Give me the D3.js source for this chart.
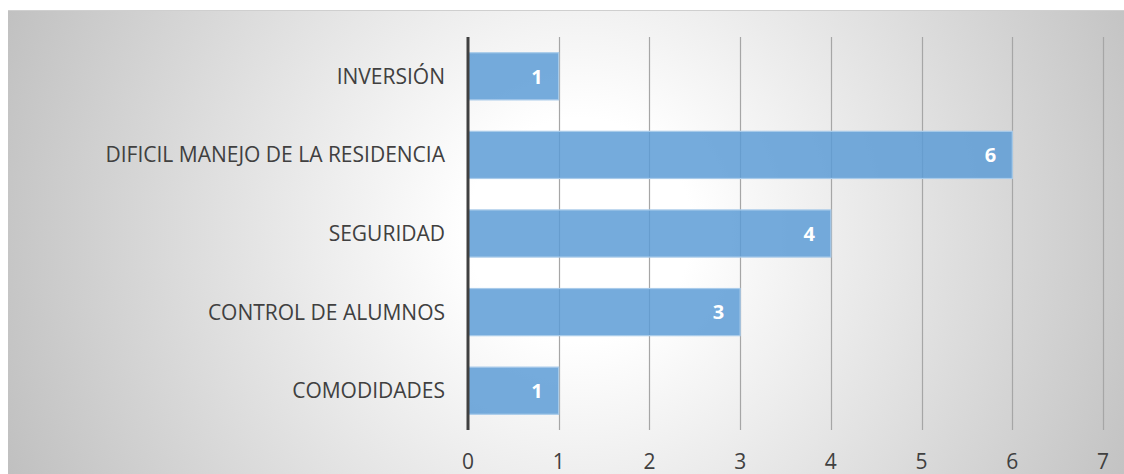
<!DOCTYPE html>
<html>
<head>
<meta charset="utf-8">
<script src="https://cdn.jsdelivr.net/npm/d3@7"></script>
<style>
  body { margin: 0; background: #fff; }
  svg { display: block; }
</style>
</head>
<body>
<div id="chart"></div>
<script>
var categories = ["INVERSIÓN", "DIFICIL MANEJO DE LA RESIDENCIA", "SEGURIDAD", "CONTROL DE ALUMNOS", "COMODIDADES"];
var values = [1, 6, 4, 3, 1];
var ticks = [0, 1, 2, 3, 4, 5, 6, 7];

var W = 1124, H = 474;
var margin = { top: 37, right: 21, bottom: 44, left: 468 };
var width = W - margin.left - margin.right,
    height = H - margin.top - margin.bottom;

var svg = d3.select("#chart").append("svg")
    .attr("width", W)
    .attr("height", H);

var defs = svg.append("defs");
var grad = defs.append("radialGradient")
    .attr("id", "bg")
    .attr("gradientUnits", "userSpaceOnUse")
    .attr("cx", 580).attr("cy", 230).attr("r", 620);
grad.append("stop").attr("offset", "0%").attr("stop-color", "#ffffff");
grad.append("stop").attr("offset", "18%").attr("stop-color", "#ffffff");
grad.append("stop").attr("offset", "100%").attr("stop-color", "#c0c0c0");

// chart area background
svg.append("rect")
    .attr("x", 8).attr("y", 10)
    .attr("width", W - 8).attr("height", H - 10)
    .attr("fill", "url(#bg)");
svg.append("line")
    .attr("x1", 8).attr("x2", W)
    .attr("y1", 10.5).attr("y2", 10.5)
    .attr("stroke", "#cfcfcf").attr("stroke-width", 1);

var x = d3.scaleLinear().domain([0, 7]).range([0, 635]);
var y = d3.scaleBand().domain(categories).range([0, height]).paddingInner(0.4).paddingOuter(0.2);

var g = svg.append("g")
    .attr("transform", "translate(" + margin.left + "," + margin.top + ")");

// gridlines
g.selectAll(".grid")
    .data(ticks.slice(1))
    .enter().append("line")
    .attr("class", "grid")
    .attr("x1", function (d) { return Math.round(x(d)) + 0.5; })
    .attr("x2", function (d) { return Math.round(x(d)) + 0.5; })
    .attr("y1", 0)
    .attr("y2", height)
    .attr("stroke", "#a6a6a6")
    .attr("stroke-width", 1.2);

// bars
g.selectAll(".bar")
    .data(values)
    .enter().append("rect")
    .attr("class", "bar")
    .attr("x", 0)
    .attr("y", function (d, i) { return y(categories[i]); })
    .attr("width", function (d) { return x(d); })
    .attr("height", y.bandwidth())
    .attr("fill", "#5b9bd5")
    .attr("fill-opacity", 0.84)
    .attr("stroke", "#a9cbea")
    .attr("stroke-width", 1.2);

// data labels
g.selectAll(".lbl")
    .data(values)
    .enter().append("text")
    .attr("class", "lbl")
    .attr("x", function (d) { return x(d) - 16; })
    .attr("y", function (d, i) { return y(categories[i]) + y.bandwidth() / 2; })
    .attr("dy", "0.36em")
    .attr("text-anchor", "end")
    .attr("fill", "#ffffff")
    .attr("font-family", "'Open Sans', sans-serif")
    .attr("font-weight", "bold")
    .attr("font-size", 20)
    .text(function (d) { return d; });

// y axis line
g.append("line")
    .attr("x1", 0).attr("x2", 0)
    .attr("y1", 0).attr("y2", height)
    .attr("stroke", "#404040")
    .attr("stroke-width", 3);

// category labels
g.selectAll(".cat")
    .data(categories)
    .enter().append("text")
    .attr("class", "cat")
    .attr("x", -23)
    .attr("y", function (d) { return y(d) + y.bandwidth() / 2; })
    .attr("dy", "0.36em")
    .attr("text-anchor", "end")
    .attr("fill", "#404040")
    .attr("font-family", "'Open Sans', sans-serif")
    .attr("font-size", 21)
    .text(function (d) { return d; });

// x tick labels
g.selectAll(".tick-lbl")
    .data(ticks)
    .enter().append("text")
    .attr("class", "tick-lbl")
    .attr("x", function (d) { return x(d); })
    .attr("y", height + 39)
    .attr("text-anchor", "middle")
    .attr("fill", "#404040")
    .attr("font-family", "'Open Sans', sans-serif")
    .attr("font-size", 21)
    .text(function (d) { return d; });
</script>
</body>
</html>
